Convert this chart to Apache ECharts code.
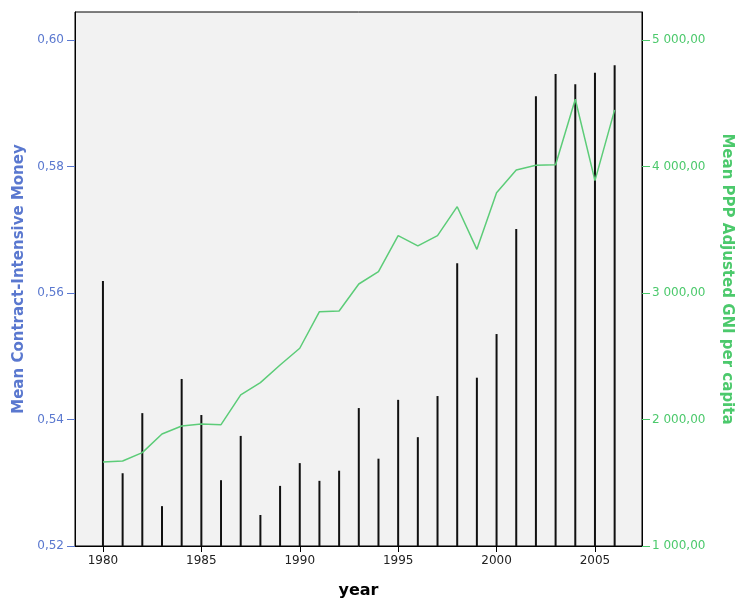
<!DOCTYPE html>
<html><head><meta charset="utf-8">
<script src="https://cdn.jsdelivr.net/npm/echarts@6/dist/echarts.min.js"></script>
<style>html,body{margin:0;padding:0;background:#fff}#c{width:736px;height:598px}</style>
</head><body><div id="c"></div>
<script>
const years = [1980,1981,1982,1983,1984,1985,1986,1987,1988,1989,1990,1991,1992,1993,1994,1995,1996,1997,1998,1999,2000,2001,2002,2003,2004,2005,2006];
const cimValues = [0.5619,0.5315,0.5410,0.5263,0.5464,0.5407,0.5304,0.5374,0.5249,0.5295,0.5331,0.5303,0.5319,0.5418,0.5338,0.5431,0.5372,0.5437,0.5647,0.5466,0.5535,0.5701,0.5911,0.5946,0.5930,0.5948,0.5960];
const gniValues = [1664,1672,1738,1885,1949,1964,1959,2194,2291,2431,2563,2852,2858,3071,3168,3453,3372,3453,3682,3345,3793,3972,4009,4014,4531,3888,4447];
const xTicks = [1980,1985,1990,1995,2000,2005];
const leftTicks = [0.52,0.54,0.56,0.58,0.60];
const rightTicks = [1000,2000,3000,4000,5000];

const BLUE = '#5a78cf', GREEN = '#4cc96c', FONT = 'DejaVu Sans';
const chart = echarts.init(document.getElementById('c'));
chart.setOption({
  animation: false,
  grid: {left: 75, right: 94, top: 12, bottom: 52, outerBoundsMode: 'none', containLabel: false,
    show: true, backgroundColor: '#f2f2f2', borderColor: '#000', borderWidth: 1},
  xAxis: {
    type: 'value', min: 1978.58, max: 2007.39,
    name: 'year', nameLocation: 'middle', nameGap: 37,
    nameTextStyle: {fontFamily: FONT, fontWeight: 'bold', fontSize: 16, color: '#000'},
    axisLine: {show: true, onZero: false, lineStyle: {color: '#000'}},
    axisTick: {show: true, length: 6, customValues: xTicks, lineStyle: {color: '#000'}},
    axisLabel: {customValues: xTicks, fontFamily: FONT, fontSize: 12, color: '#222', margin: 9,
      formatter: v => String(Math.round(v))},
    splitLine: {show: false}
  },
  yAxis: [{
    type: 'value', min: 0.52, max: 0.6044, position: 'left',
    name: 'Mean Contract-Intensive Money', nameLocation: 'middle', nameGap: 48,
    nameTextStyle: {fontFamily: FONT, fontWeight: 'bold', fontSize: 15, color: BLUE},
    axisLine: {show: true, lineStyle: {color: '#000'}},
    axisTick: {show: true, length: 8, customValues: leftTicks, lineStyle: {color: BLUE}},
    axisLabel: {customValues: leftTicks, fontFamily: FONT, fontSize: 12, color: BLUE, margin: 11,
      formatter: v => v.toFixed(2).replace('.', ',')},
    splitLine: {show: false}
  }, {
    type: 'value', min: 1000, max: 5221, position: 'right',
    name: 'Mean PPP Adjusted GNI per capita', nameLocation: 'middle', nameGap: 77, nameRotate: -90,
    nameTextStyle: {fontFamily: FONT, fontWeight: 'bold', fontSize: 15, color: GREEN},
    axisLine: {show: true, lineStyle: {color: '#000'}},
    axisTick: {show: true, length: 8, customValues: rightTicks, lineStyle: {color: GREEN}},
    axisLabel: {customValues: rightTicks, fontFamily: FONT, fontSize: 12, color: GREEN, margin: 10,
      formatter: v => Math.round(v).toString().replace(/\B(?=(\d{3})+(?!\d))/g, ' ') + ',00'},
    splitLine: {show: false}
  }],
  series: [{
    type: 'bar', yAxisIndex: 0, barWidth: 2,
    data: years.map((y, i) => [y, cimValues[i]]),
    itemStyle: {color: '#111'}
  }, {
    type: 'line', yAxisIndex: 1, showSymbol: false, symbol: 'none',
    data: years.map((y, i) => [y, gniValues[i]]),
    lineStyle: {color: '#5ccc78', width: 1.5}
  }]
});
</script></body></html>
